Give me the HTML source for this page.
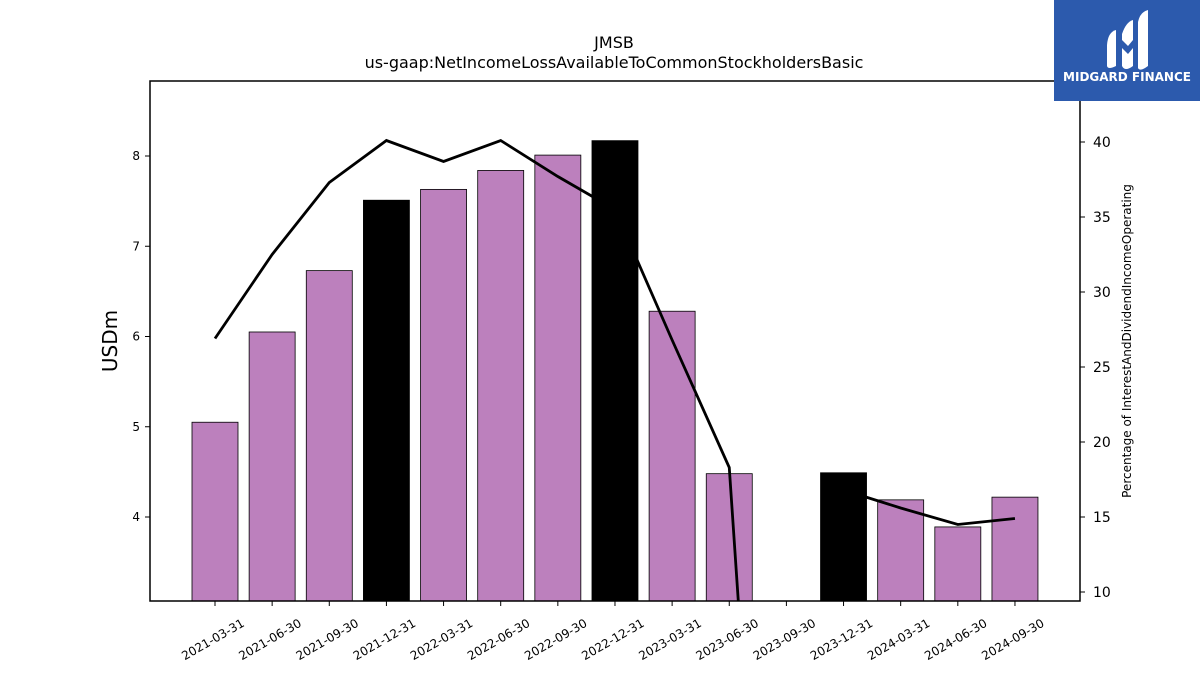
<!DOCTYPE html>
<html><head><meta charset="utf-8"><style>
html,body{margin:0;background:#fff;width:1200px;height:675px;overflow:hidden;}
svg{display:block;}
svg text{font-family:"DejaVu Sans","Liberation Sans",sans-serif;}
</style></head><body>
<svg id="chart" width="1200" height="675" xmlns="http://www.w3.org/2000/svg">
<text x="614" y="48" font-size="16" text-anchor="middle">JMSB</text>
<text x="614" y="68" font-size="16" text-anchor="middle">us-gaap:NetIncomeLossAvailableToCommonStockholdersBasic</text>
<g id="bars"></g>
<g id="line"></g>
<rect x="150" y="81" width="930" height="520" fill="none" stroke="#000" stroke-width="1.5"/>
<g id="axes"></g>
<text transform="translate(117,341) rotate(-90)" font-size="20" text-anchor="middle">USDm</text>
<text transform="translate(1131,341) rotate(-90)" font-size="12" text-anchor="middle">Percentage of InterestAndDividendIncomeOperating</text>
<g>
<rect x="1054" y="0" width="146" height="101" fill="#2c5aad"/>
<path d="M1107 45 Q1108 32 1116 30 L1116 66 Q1108 70 1107 66 Z" fill="#fff"/>
<path d="M1122 34 Q1126 22 1133 20 L1133 40 L1128 46 L1122 40 Z" fill="#fff"/>
<path d="M1122 48 L1128 54 L1133 48 L1133 66 Q1125 72 1122 66 Z" fill="#fff"/>
<path d="M1138 22 Q1140 12 1148 10 L1148 66 Q1140 72 1138 68 Z" fill="#fff"/>
<text x="1127" y="81" font-size="12" font-weight="bold" fill="#fff" text-anchor="middle">MIDGARD FINANCE</text>
</g>
</svg>
<script>
const categories=["2021-03-31","2021-06-30","2021-09-30","2021-12-31","2022-03-31","2022-06-30","2022-09-30","2022-12-31","2023-03-31","2023-06-30","2023-09-30","2023-12-31","2024-03-31","2024-06-30","2024-09-30"];
const barValues=[5.05,6.05,6.73,7.51,7.63,7.84,8.01,8.17,6.28,4.48,null,4.49,4.19,3.89,4.22];
const barHighlight=[false,false,false,true,false,false,false,true,false,false,false,true,false,false,false];
const lineValues=[26.9,32.5,37.3,40.1,38.7,40.1,37.7,35.5,26.8,18.3,-38,16.8,15.6,14.5,14.9];
const leftTicks=[4,5,6,7,8];
const rightTicks=[10,15,20,25,30,35,40];
const NS="http://www.w3.org/2000/svg";
const L=150,R=1080,T=81,B=601;
const xStep=57.14, x0=215;
function xPos(i){return x0+i*xStep;}
function yL(v){return 156+(8-v)*90.25;}
function yR(v){return 142+(40-v)*15;}
function mk(tag,attrs,parent){const e=document.createElementNS(NS,tag);for(const k in attrs)e.setAttribute(k,attrs[k]);parent.appendChild(e);return e;}
const bars=document.getElementById('bars'),axes=document.getElementById('axes'),line=document.getElementById('line');
const clip=mk('clipPath',{id:'pc'},document.getElementById('chart'));
mk('rect',{x:L,y:T,width:R-L,height:B-T},clip);
line.setAttribute('clip-path','url(#pc)');
barValues.forEach((v,i)=>{
  if(v===null)return;
  const y=yL(v);
  const r=mk('rect',{x:xPos(i)-23,y:y,width:46,height:B-y,fill:barHighlight[i]?'#000':'#bc80bd',stroke:'#000','stroke-width':0.8},bars);
  
  
});
const pl=mk('polyline',{points:lineValues.map((v,i)=>xPos(i)+','+yR(v)).join(' '),fill:'none',stroke:'#000','stroke-width':2.8},line);


categories.forEach((c,i)=>{
  const x=xPos(i);
  mk('line',{x1:x,x2:x,y1:B,y2:B+5,stroke:'#000'},axes);
  const t=mk('text',{transform:`translate(${x},${B+42}) rotate(-30)`,'font-size':12,'text-anchor':'middle'},axes);
  t.textContent=c;
  
  
});
leftTicks.forEach(v=>{
  const y=yL(v);
  mk('line',{x1:L-5,x2:L,y1:y,y2:y,stroke:'#000'},axes);
  const t=mk('text',{x:L-10,y:y+4,'font-size':12,'text-anchor':'end'},axes);
  t.textContent=v;
  
  
});
rightTicks.forEach(v=>{
  const y=yR(v);
  mk('line',{x1:R,x2:R+5,y1:y,y2:y,stroke:'#000'},axes);
  const t=mk('text',{x:R+13,y:y+5,'font-size':14},axes);
  t.textContent=v;
  
  
});
</script>
</body></html>
